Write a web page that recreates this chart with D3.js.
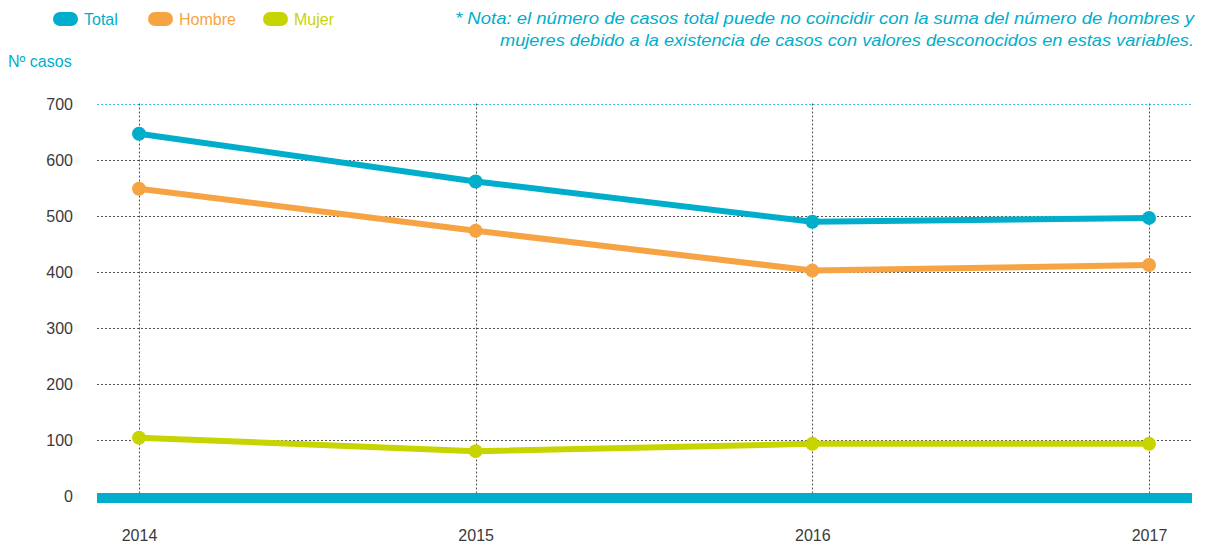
<!DOCTYPE html>
<html>
<head>
<meta charset="utf-8">
<script src="https://cdn.jsdelivr.net/npm/d3@7"></script>
<style>
  html, body { margin: 0; padding: 0; background: #fff; }
  svg { display: block; font-family: "Liberation Sans", Arial, Helvetica, sans-serif; }
</style>
</head>
<body>
<svg id="chart" width="1206" height="547"></svg>
<script>
// Casos por año, total y por sexo
const years = ["2014", "2015", "2016", "2017"];
const total = [646, 561, 489, 496];
const hombre = [548, 473, 402, 412];
const mujer = [104, 80, 93, 93];
const yTicks = [0, 100, 200, 300, 400, 500, 600, 700];

const seriesNames = ["Total", "Hombre", "Mujer"];
const seriesColors = ["#00aecb", "#f6a443", "#c8d400"];
const series = [total, hombre, mujer];

const svg = d3.select("#chart");
const width = 1206, height = 547;
const margin = { left: 97, right: 14, top: 103.5, bottom: 51 };

const x = d3.scalePoint().domain(years).range([139, 1149]);
const y = d3.scaleLinear().domain([0, 700]).range([496, 103.5]);

// Horizontal grid lines
const grid = svg.append("g");
grid.selectAll("line.h")
  .data(yTicks.filter(d => d > 0))
  .join("line")
  .attr("x1", margin.left).attr("x2", width - margin.right)
  .attr("y1", d => Math.round(y(d)) + 0.5).attr("y2", d => Math.round(y(d)) + 0.5)
  .attr("stroke", d => d === 700 ? "#3cc3d8" : "#555")
  .attr("stroke-width", 1)
  .attr("stroke-dasharray", "2,2");

// Vertical grid lines at each year
grid.selectAll("line.v")
  .data(years)
  .join("line")
  .attr("x1", d => Math.round(x(d)) + 0.5).attr("x2", d => Math.round(x(d)) + 0.5)
  .attr("y1", y(700)).attr("y2", 493)
  .attr("stroke", "#555")
  .attr("stroke-width", 1)
  .attr("stroke-dasharray", "2,2");

// Baseline bar
svg.append("rect")
  .attr("x", margin.left).attr("y", 493)
  .attr("width", width - margin.right - margin.left).attr("height", 10)
  .attr("fill", "#00aecb");

// Y axis labels
const yAxis = d3.axisLeft(y).tickValues(yTicks).tickSize(0).tickPadding(0);
const yg = svg.append("g").attr("transform", "translate(73,0)").call(yAxis);
yg.select(".domain").remove();
yg.selectAll("text")
  .attr("fill", "#3a3a3a")
  .attr("font-size", 16)
  .attr("font-family", "Liberation Sans, Arial, sans-serif")
  .attr("dy", "0.35em");

// X axis labels
const xAxis = d3.axisBottom(x).tickSize(0).tickPadding(0);
const xg = svg.append("g").attr("transform", "translate(0,530)").call(xAxis);
xg.select(".domain").remove();
xg.selectAll("text")
  .attr("fill", "#3a3a3a")
  .attr("font-size", 16)
  .attr("font-family", "Liberation Sans, Arial, sans-serif")
  .attr("dy", "0.71em");

// Lines and markers
const line = d3.line().x((d, i) => x(years[i])).y(d => y(d));
series.forEach((vals, s) => {
  svg.append("path")
    .datum(vals)
    .attr("d", line)
    .attr("fill", "none")
    .attr("stroke", seriesColors[s])
    .attr("stroke-width", 6)
    .attr("stroke-linejoin", "round");
  svg.append("g").selectAll("circle")
    .data(vals)
    .join("circle")
    .attr("cx", (d, i) => x(years[i]))
    .attr("cy", d => y(d))
    .attr("r", 7)
    .attr("fill", seriesColors[s]);
});

// Legend
const legendX = [53, 148, 263];
const legend = svg.append("g");
seriesNames.forEach((name, i) => {
  legend.append("rect")
    .attr("x", legendX[i]).attr("y", 12)
    .attr("width", 25).attr("height", 14)
    .attr("rx", 7).attr("ry", 7)
    .attr("fill", seriesColors[i]);
  legend.append("text")
    .attr("x", legendX[i] + 31).attr("y", 25)
    .attr("font-size", 16)
    .attr("fill", seriesColors[i])
    .text(name);
});

// Axis title
svg.append("text")
  .attr("x", 8).attr("y", 67)
  .attr("font-size", 16)
  .attr("fill", "#00aecb")
  .text("Nº casos");

// Note (right-aligned, two lines)
const note = [
  "* Nota: el número de casos total puede no coincidir con la suma del número de hombres y",
  "mujeres debido a la existencia de casos con valores desconocidos en estas variables."
];
const noteWidths = [739, 694];
svg.append("g").selectAll("text")
  .data(note)
  .join("text")
  .attr("x", (d, i) => 1194 - noteWidths[i])
  .attr("y", (d, i) => 24 + i * 22)
  .attr("textLength", (d, i) => noteWidths[i])
  .attr("lengthAdjust", "spacingAndGlyphs")
  .attr("font-size", 16.5)
  .attr("font-style", "italic")
  .attr("fill", "#00aecb")
  .text(d => d);
</script>
</body>
</html>
